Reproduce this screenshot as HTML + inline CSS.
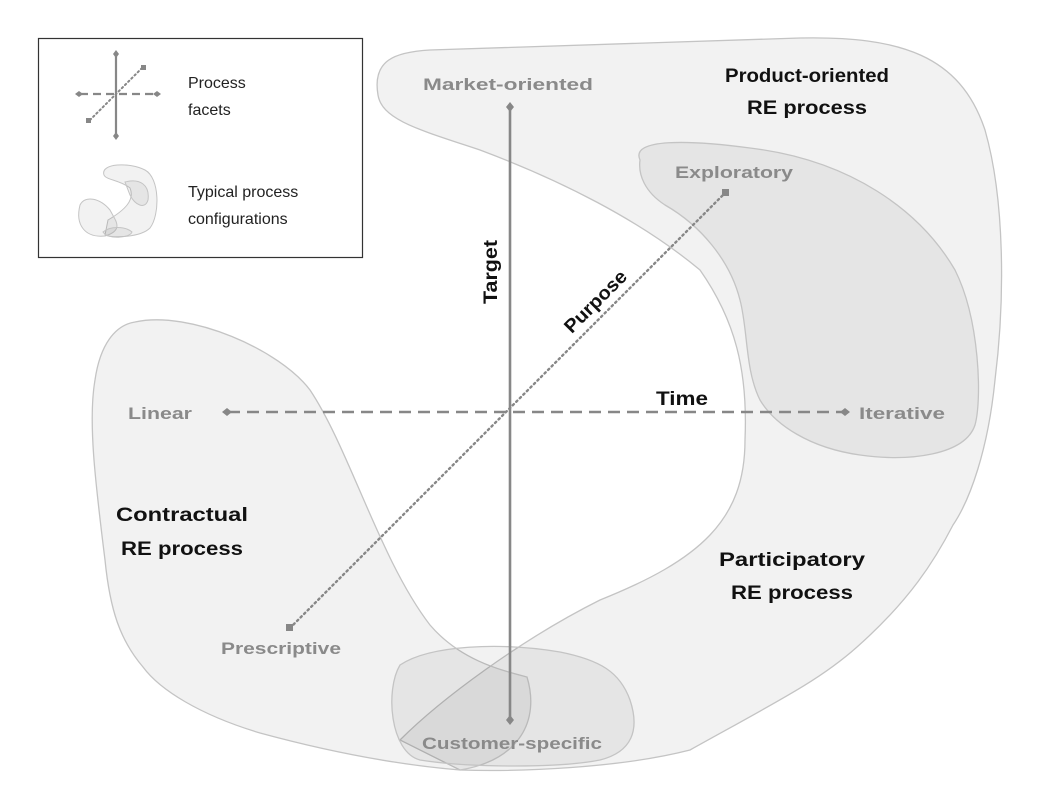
<!DOCTYPE html>
<html><head><meta charset="utf-8"><style>
html,body{margin:0;padding:0;background:#fff;}
svg{display:block;}
text{font-family:"Liberation Sans",sans-serif;font-weight:bold;}
.g{fill:#8a8a8a;font-size:17px;}
.b{fill:#111;font-size:19px;}
.l{fill:#222;font-size:16px;font-weight:normal;}
</style></head><body>
<svg width="1044" height="788" viewBox="0 0 1044 788" xmlns="http://www.w3.org/2000/svg">
<g stroke="#c4c4c4" stroke-width="1.3" fill="#000" fill-opacity="0.05">
<!-- product + participatory -->
<path d="M378,95 C372,60 395,52 430,50 L800,38 C900,36 960,55 985,130 C1005,200 1005,300 995,380 C988,450 970,500 953,525 C935,560 910,600 857,647 C820,680 780,700 690,750 C620,768 520,772 460,770 L400,740 C440,700 520,640 600,600 C700,560 745,520 745,440 C748,370 735,320 700,270 C640,220 560,180 480,150 C420,130 382,120 378,95 Z"/>
<!-- contractual -->
<path d="M135,322 C190,310 280,350 310,390 C350,450 380,560 430,625 C460,660 500,670 527,677 C540,720 520,760 460,770 C400,765 330,752 260,733 C200,715 160,690 143,667 C120,640 110,610 105,560 C95,480 88,420 95,380 C100,345 115,325 135,322 Z"/>
<!-- exploratory -->
<path d="M640,160 C630,138 690,140 750,148 C850,160 920,210 955,270 C980,320 982,400 975,425 C965,455 910,462 860,455 C810,448 775,425 760,400 C745,370 748,330 740,300 C730,260 700,225 665,205 C645,192 638,175 640,160 Z"/>
<!-- customer -->
<path d="M400,665 C430,645 500,642 560,652 C600,660 620,672 630,700 C640,730 632,752 600,760 C560,768 470,768 420,760 C390,752 385,690 400,665 Z"/>
</g>
<!-- axes -->
<g stroke="#878787" fill="#878787">
<line x1="510" y1="108" x2="510" y2="720" stroke-width="2.6"/>
<line x1="228" y1="412" x2="843" y2="412" stroke-width="2.6" stroke-dasharray="12,7"/>
<line x1="290" y1="628" x2="725" y2="193" stroke-width="2.4" stroke-dasharray="1.5,3.5" stroke-linecap="round"/>
</g>
<g fill="#878787">
<path d="M510,102 l4,5 l-4,5 l-4,-5z"/><path d="M510,715 l4,5 l-4,5 l-4,-5z"/>
<path d="M222,412 l5,-4 l5,4 l-5,4z"/><path d="M840,412 l5,-4 l5,4 l-5,4z"/>
<rect x="286" y="624" width="7" height="7"/><rect x="722" y="189" width="7" height="7"/>
</g>
<!-- labels -->
<text class="g" x="508" y="90" text-anchor="middle" textLength="170" lengthAdjust="spacingAndGlyphs">Market-oriented</text>
<text class="g" x="734" y="178" text-anchor="middle" textLength="118" lengthAdjust="spacingAndGlyphs">Exploratory</text>
<text class="g" x="160" y="419" text-anchor="middle" textLength="64" lengthAdjust="spacingAndGlyphs">Linear</text>
<text class="g" x="902" y="419" text-anchor="middle" textLength="86" lengthAdjust="spacingAndGlyphs">Iterative</text>
<text class="g" x="281" y="654" text-anchor="middle" textLength="120" lengthAdjust="spacingAndGlyphs">Prescriptive</text>
<text class="g" x="512" y="749" text-anchor="middle" textLength="180" lengthAdjust="spacingAndGlyphs">Customer-specific</text>
<text class="b" x="807" y="82" text-anchor="middle" textLength="164" lengthAdjust="spacingAndGlyphs">Product-oriented</text>
<text class="b" x="807" y="114" text-anchor="middle" textLength="120" lengthAdjust="spacingAndGlyphs">RE process</text>
<text class="b" x="182" y="521" text-anchor="middle" textLength="132" lengthAdjust="spacingAndGlyphs">Contractual</text>
<text class="b" x="182" y="555" text-anchor="middle" textLength="122" lengthAdjust="spacingAndGlyphs">RE process</text>
<text class="b" x="792" y="566" text-anchor="middle" textLength="146" lengthAdjust="spacingAndGlyphs">Participatory</text>
<text class="b" x="792" y="599" text-anchor="middle" textLength="122" lengthAdjust="spacingAndGlyphs">RE process</text>
<text class="b" font-size="17" x="0" y="0" transform="translate(497,272) rotate(-90)" text-anchor="middle" textLength="64" lengthAdjust="spacingAndGlyphs">Target</text>
<text class="b" font-size="17" x="0" y="0" transform="translate(600,306) rotate(-45)" text-anchor="middle" textLength="80" lengthAdjust="spacingAndGlyphs">Purpose</text>
<text class="b" font-size="17" x="682" y="405" text-anchor="middle" textLength="52" lengthAdjust="spacingAndGlyphs">Time</text>
<!-- legend -->
<rect x="38.5" y="38.5" width="324" height="219" fill="#fff" stroke="#333" stroke-width="1.2"/>
<g stroke="#878787" fill="#878787">
<line x1="116" y1="55" x2="116" y2="135" stroke-width="2.2"/>
<line x1="80" y1="94" x2="155" y2="94" stroke-width="2.2" stroke-dasharray="8,5"/>
<line x1="90" y1="120" x2="142" y2="68" stroke-width="2" stroke-dasharray="1.5,3" stroke-linecap="round"/>
</g>
<g fill="#878787">
<path d="M116,50 l3,4 l-3,4 l-3,-4z"/><path d="M116,132 l3,4 l-3,4 l-3,-4z"/>
<path d="M75,94 l4,-3 l4,3 l-4,3z"/><path d="M153,94 l4,-3 l4,3 l-4,3z"/>
<rect x="86" y="118" width="5" height="5"/><rect x="141" y="65" width="5" height="5"/>
</g>
<g stroke="#c4c4c4" stroke-width="1" fill="#000" fill-opacity="0.05">
<path d="M104,175 C100,163 130,162 145,170 C160,178 160,215 150,228 C140,238 110,238 105,235 L108,220 C125,210 135,200 130,188 C120,180 106,180 104,175Z"/>
<path d="M80,205 C85,195 100,198 110,210 C115,220 125,230 105,236 C85,238 75,225 80,205Z"/>
<path d="M125,182 C140,178 150,185 148,200 C145,210 135,205 130,195Z"/>
<path d="M103,232 C110,226 125,226 132,232 C130,238 108,240 103,232Z"/>
</g>
<text class="l" x="188" y="88">Process</text>
<text class="l" x="188" y="115">facets</text>
<text class="l" x="188" y="197">Typical process</text>
<text class="l" x="188" y="224">configurations</text>
</svg>
</body></html>
